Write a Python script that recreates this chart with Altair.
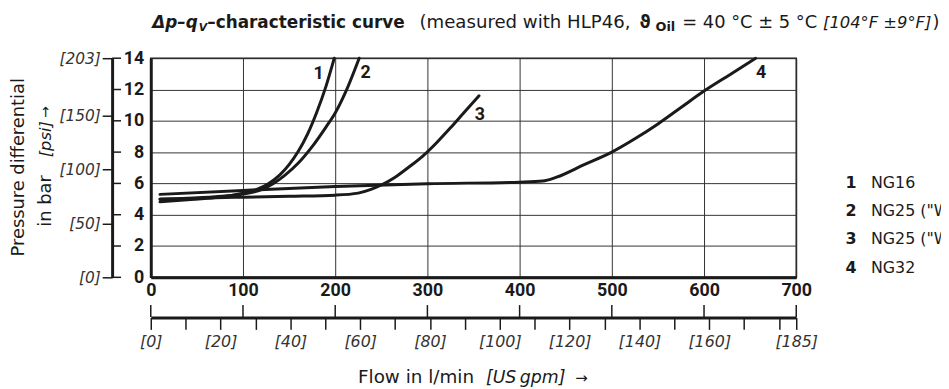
import altair as alt
import pandas as pd

# ---------------- data ----------------
flow_1 = [10, 40, 70, 100, 115, 128, 140, 150, 160, 170, 180, 190, 199]
dp_1 = [4.82, 4.95, 5.1, 5.38, 5.62, 6.0, 6.55, 7.2, 8.05, 9.15, 10.55, 12.2, 14.0]
flow_2 = [10, 40, 70, 100, 120, 133, 145, 160, 175, 190, 200, 211, 226]
dp_2 = [5.0, 5.05, 5.15, 5.32, 5.6, 6.0, 6.5, 7.3, 8.35, 9.6, 10.5, 11.8, 14.0]
flow_3 = [10, 50, 100, 150, 200, 225, 238, 250, 265, 280, 295, 310, 325, 340, 356]
dp_3 = [4.97, 5.05, 5.12, 5.18, 5.25, 5.38, 5.6, 5.9, 6.4, 7.05, 7.75, 8.6, 9.55, 10.55, 11.6]
flow_4 = [10, 100, 200, 300, 400, 425, 440, 470, 500, 525, 550, 575, 600, 628, 656]
dp_4 = [5.3, 5.55, 5.8, 5.98, 6.08, 6.15, 6.4, 7.2, 8.0, 8.85, 9.8, 10.85, 11.9, 12.95, 14.0]

curve_ids = ["1", "2", "3", "4"]
label_flow = [182, 233, 357, 662]
label_dp = [13.0, 13.05, 10.4, 13.05]
legend_names = ["NG16", 'NG25 ("W', 'NG25 ("W', "NG32"]

flow_ticks = [0, 100, 200, 300, 400, 500, 600, 700]
bar_ticks = [0, 2, 4, 6, 8, 10, 12, 14]
psi_ticks = [0, 50, 100, 150, 203]
gpm_ticks = [0, 10, 20, 30, 40, 50, 60, 70, 80, 90, 100, 110, 120, 130, 140, 150, 160, 170, 180, 185]
gpm_labeled = [0, 20, 40, 60, 80, 100, 120, 140, 160, 185]

PSI_PER_BAR = 14.5038
LPM_PER_GPM = 3.78541

rows = []
for cid, fl, dp in zip(curve_ids, [flow_1, flow_2, flow_3, flow_4], [dp_1, dp_2, dp_3, dp_4]):
    for i, (f, d) in enumerate(zip(fl, dp)):
        rows.append({"curve": cid, "flow": f, "dp": d, "order": i})
curves = pd.DataFrame(rows)
labels = pd.DataFrame({"id": curve_ids, "flow": label_flow, "dp": label_dp})

W, H = 651, 221
BLACK = "#1a1a1a"
NUMFONT = "Roboto"
TXTFONT = "DejaVu Sans"

xscale = alt.Scale(domain=[0, 700], nice=False, zero=False)
yscale = alt.Scale(domain=[0, 14], nice=False, zero=False)

# ---------------- main curves with primary axes ----------------
lines = alt.Chart(curves).mark_line(
    color=BLACK, strokeWidth=3, interpolate="monotone", strokeCap="round"
).encode(
    x=alt.X("flow:Q", scale=xscale, axis=alt.Axis(
        orient="bottom", values=flow_ticks, grid=True, gridColor="#333", gridWidth=1,
        domain=True, domainColor=BLACK, domainWidth=3, ticks=False,
        labelFont=NUMFONT, labelFontWeight="bold", labelFontSize=18, labelColor=BLACK,
        labelPadding=4, labelFlush=False, labelOverlap=False, title=None)),
    y=alt.Y("dp:Q", scale=yscale, axis=alt.Axis(
        orient="left", values=bar_ticks, grid=True, gridColor="#333", gridWidth=1,
        domain=True, domainColor=BLACK, domainWidth=3, ticks=False,
        labelFont=NUMFONT, labelFontWeight="bold", labelFontSize=18, labelColor=BLACK,
        labelPadding=7, labelFlush=False, labelOverlap=False, labelBaseline="middle", title=None)),
    detail="curve:N",
    order="order:Q",
)

curve_labels = alt.Chart(labels).mark_text(
    font=NUMFONT, fontWeight="bold", fontSize=18, color=BLACK, align="center", baseline="middle"
).encode(
    x=alt.X("flow:Q", scale=xscale, axis=None),
    y=alt.Y("dp:Q", scale=yscale, axis=None),
    text="id:N",
)

# psi secondary axis + bar ticks drawn on it
bar_tick_df = pd.DataFrame({"bar": bar_ticks})
psi_layer = alt.Chart(bar_tick_df).mark_rule(color=BLACK, strokeWidth=1.5).encode(
    x=alt.value(-39), x2=alt.value(-30),
    y=alt.Y("bar:Q", scale=yscale, axis=alt.Axis(
        orient="left", offset=39, values=[p / PSI_PER_BAR for p in psi_ticks],
        labelExpr="'[' + round(datum.value * %f) + ']'" % PSI_PER_BAR,
        domain=True, domainColor=BLACK, domainWidth=3, ticks=True, tickSize=10,
        tickWidth=1.5, tickColor=BLACK, grid=False,
        labelFont=TXTFONT, labelFontStyle="italic", labelFontSize=15.5, labelColor="#333",
        labelPadding=2, labelFlush=False, labelOverlap=False, labelBaseline="middle", title=None)),
)

# gpm secondary axis + l/min ticks on it
flow_tick_df = pd.DataFrame({"flow": flow_ticks})
gpm_expr = "round(datum.value / %f)" % LPM_PER_GPM
gpm_layer = alt.Chart(flow_tick_df).mark_rule(color=BLACK, strokeWidth=1.5).encode(
    y=alt.value(249), y2=alt.value(261),
    x=alt.X("flow:Q", scale=xscale, axis=alt.Axis(
        orient="bottom", offset=40.5,
        values=[min(g * LPM_PER_GPM, 700.0) for g in gpm_ticks],
        labelExpr="indexof(%s, %s) >= 0 ? '[' + %s + ']' : ''" % (str(gpm_labeled), gpm_expr, gpm_expr),
        domain=True, domainColor=BLACK, domainWidth=3, ticks=True, tickSize=12,
        tickWidth=1.5, tickColor=BLACK, grid=False,
        labelFont=TXTFONT, labelFontStyle="italic", labelFontSize=16, labelColor="#333",
        labelPadding=4, labelFlush=False, labelOverlap=False, title=None)),
)


def txt(s, x, y, size, weight="normal", style="normal", font=TXTFONT, angle=0,
        align="left", baseline="alphabetic", color=BLACK):
    return alt.Chart(pd.DataFrame({"t": [s]})).mark_text(
        font=font, fontSize=size, fontWeight=weight, fontStyle=style, angle=angle,
        align=align, baseline=baseline, color=color,
    ).encode(x=alt.value(x), y=alt.value(y), text="t:N")


texts = [
    # title
    txt("\u0394p\u2013q", 1.5, -30, 17, weight="bold", style="italic"),
    txt("V", 48.5, -27.5, 11, weight="bold", style="italic"),
    txt("\u2013characteristic curve", 57, -30, 17, weight="bold"),
    txt("(measured with HLP46,", 271, -30, 18.3),
    txt("\u03d1", 493, -30, 17, weight="bold"),
    txt("Oil", 509, -27, 13, weight="bold"),
    txt("= 40 \u00b0C \u00b1 5 \u00b0C", 536, -30, 18),
    txt("[104\u00b0F \u00b19\u00b0F]", 678, -30, 16.5, style="italic"),
    txt(")", 788.5, -30, 18),
    # y title
    txt("Pressure differential", -133, 110, 18, angle=270, align="center", baseline="middle"),
    txt("in bar", -106, 170, 18, angle=270, baseline="middle"),
    txt("[psi]", -106, 100, 16.5, style="italic", angle=270, baseline="middle"),
    txt("\u2192", -106, 60, 14, angle=270, baseline="middle"),
    # x title
    txt("Flow in l/min", 209, 328, 18.5),
    txt("[US\u2009gpm]", 338, 328, 17.5, style="italic"),
    txt("\u2192", 428, 328, 15),
]
legend_y = [125.7, 154.2, 182.7, 211.2]
for cid, name, ly in zip(curve_ids, legend_names, legend_y):
    texts.append(txt(cid, 700.7, ly, 16, weight="bold", baseline="middle"))
    texts.append(txt(name, 726.3, ly, 16, baseline="middle"))

chart = alt.layer(lines, curve_labels, psi_layer, gpm_layer, *texts).resolve_axis(
    x="independent", y="independent"
).properties(
    width=W, height=H,
    autosize=alt.AutoSizeParams(type="none"),
    padding={"left": 144, "top": 49, "right": 146, "bottom": 111},
    background="white",
).configure_view(stroke=BLACK, strokeWidth=1.5)

chart.save("out.html", embed_options={"renderer": "svg", "actions": False})
